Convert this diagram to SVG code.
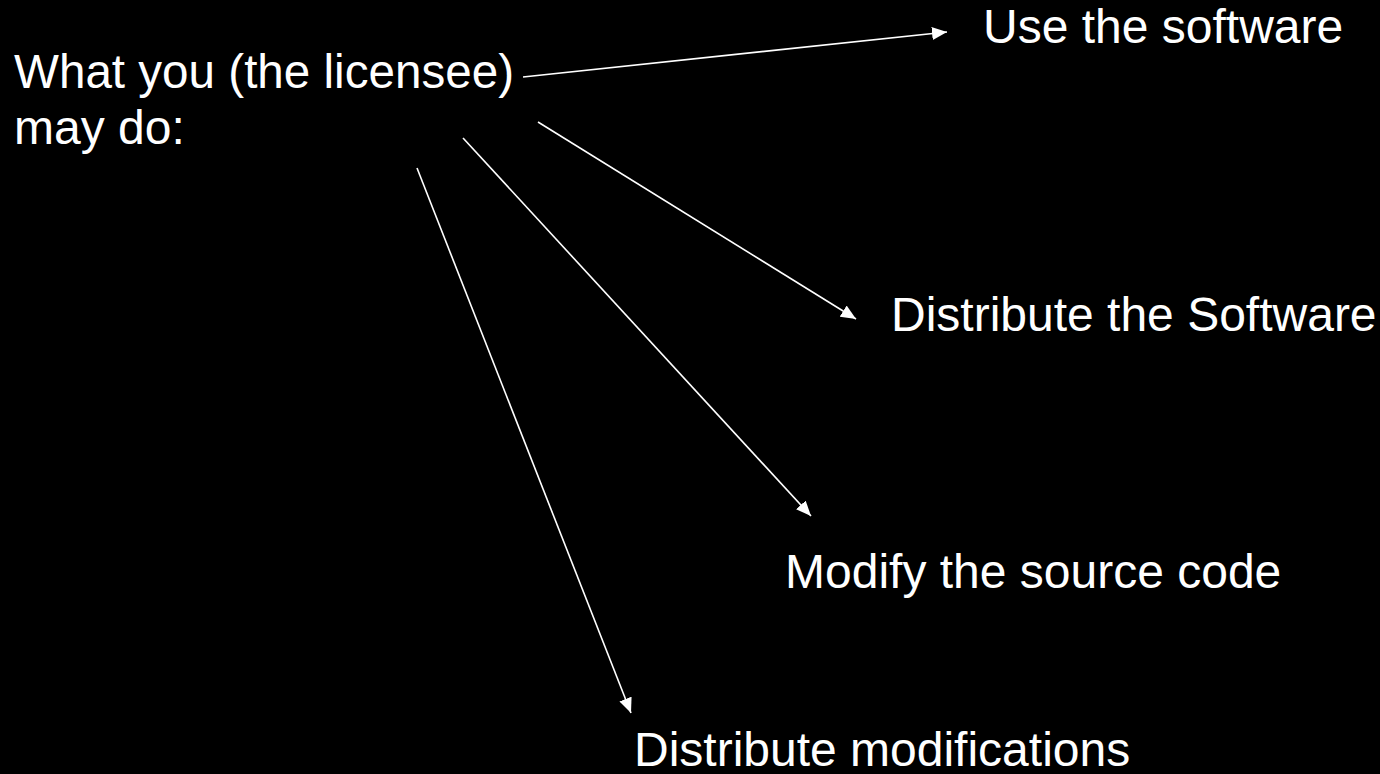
<svg xmlns="http://www.w3.org/2000/svg" width="1380" height="774" viewBox="0 0 1380 774">
  <style>
    .t { font-family: "Liberation Sans", Arial, Helvetica, sans-serif; font-size: 48px; fill: #ffffff; }
    .c { stroke: #ffffff; stroke-width: 1.6; fill: none; marker-end: url(#arr); }
  </style>
  <defs>
    <marker id="arr" markerUnits="userSpaceOnUse" markerWidth="16" markerHeight="14" refX="15" refY="6.5" orient="auto" viewBox="0 0 16 13">
      <path d="M0,0 L15,6.5 L0,13 z" fill="#ffffff"/>
    </marker>
  </defs>
  <rect x="0" y="0" width="1380" height="774" fill="#000000"/>
  <g id="connectors">
    <line class="c" x1="523" y1="77" x2="947" y2="32"/>
    <line class="c" x1="538" y1="122" x2="856" y2="319"/>
    <line class="c" x1="463" y1="138" x2="811" y2="516"/>
    <line class="c" x1="417" y1="168" x2="631" y2="713"/>
  </g>
  <g id="licensee">
    <text class="t" x="14" y="88" textLength="500" lengthAdjust="spacingAndGlyphs">What you (the licensee)</text>
    <text class="t" x="14" y="144">may do:</text>
  </g>
  <g id="use">
    <text class="t" x="983" y="43">Use the software</text>
  </g>
  <g id="distribute">
    <text class="t" x="891" y="331">Distribute the Software</text>
  </g>
  <g id="modify">
    <text class="t" x="785" y="588">Modify the source code</text>
  </g>
  <g id="distmod">
    <text class="t" x="634" y="766">Distribute modifications</text>
  </g>
</svg>
